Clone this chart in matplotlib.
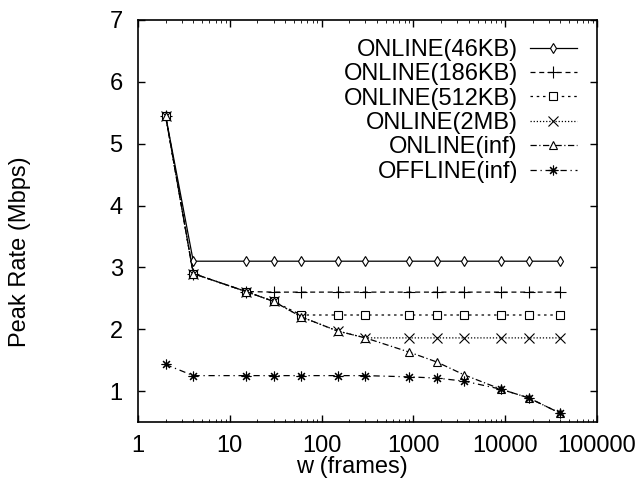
import numpy as np
import matplotlib
matplotlib.use("Agg")
import matplotlib.pyplot as plt
from matplotlib.ticker import FixedLocator, FixedFormatter, LogLocator, NullFormatter

plt.rcParams['font.family'] = ['Liberation Sans', 'DejaVu Sans']

# window sizes (frames)
w = [2, 4, 15, 30, 60, 150, 300, 900, 1800, 3600, 9000, 18000, 40000]

online_46kb = [5.45, 3.1, 3.1, 3.1, 3.1, 3.1, 3.1, 3.1, 3.1, 3.1, 3.1, 3.1, 3.1]
online_186kb = [5.45, 2.9, 2.61, 2.6, 2.6, 2.6, 2.6, 2.6, 2.6, 2.6, 2.6, 2.6, 2.6]
online_512kb = [5.45, 2.9, 2.61, 2.45, 2.23, 2.23, 2.23, 2.23, 2.23, 2.23, 2.23, 2.23, 2.23]
online_2mb = [5.45, 2.9, 2.61, 2.45, 2.2, 1.97, 1.86, 1.86, 1.86, 1.86, 1.86, 1.86, 1.86]
online_inf = [5.45, 2.9, 2.61, 2.45, 2.2, 1.97, 1.86, 1.63, 1.47, 1.26, 1.03, 0.89, 0.64]
offline_inf = [1.43, 1.25, 1.25, 1.25, 1.25, 1.25, 1.25, 1.23, 1.21, 1.16, 1.03, 0.89, 0.64]

labels = ['ONLINE(46KB)', 'ONLINE(186KB)', 'ONLINE(512KB)',
          'ONLINE(2MB)', 'ONLINE(inf)', 'OFFLINE(inf)']
xticks = [1, 10, 100, 1000, 10000, 100000]
xtick_labels = ['1', '10', '100', '1000', '10000', '100000']
yticks = [1, 2, 3, 4, 5, 6, 7]

series = [online_46kb, online_186kb, online_512kb, online_2mb, online_inf, offline_inf]
styles = [
    dict(ls='-', marker='d', ms=5, mfc='white'),
    dict(ls=(0, (4, 3)), marker='+', ms=8),
    dict(ls=(0, (2, 3)), marker='s', ms=6, mfc='white'),
    dict(ls=(0, (1, 1.5)), marker='x', ms=6.5),
    dict(ls=(0, (5, 2, 1, 2)), marker='^', ms=5.5, mfc='white'),
    dict(ls=(0, (5, 3, 1, 3)), marker=(8, 2, 0), ms=7),
]

fig = plt.figure(figsize=(6.37, 4.83), dpi=100)
ax = fig.add_axes([138 / 637, 1 - 422 / 483, 459 / 637, 402 / 483])

for ys, lab, st in zip(series, labels, styles):
    ax.plot(w, ys, color='black', lw=0.9, mew=0.8, label=lab, **st)

ax.set_xscale('log')
ax.set_xlim(1, 100000)
ax.set_ylim(0.5, 7)
ax.xaxis.set_major_locator(FixedLocator(xticks))
ax.xaxis.set_major_formatter(FixedFormatter(xtick_labels))
ax.xaxis.set_minor_locator(LogLocator(base=10, subs=np.arange(2, 10)))
ax.xaxis.set_minor_formatter(NullFormatter())
ax.set_yticks(yticks)
ax.tick_params(which='both', direction='in', top=True, right=True, labelsize=17)
ax.tick_params(which='major', length=5, width=1)
ax.tick_params(which='minor', length=2.5, width=0.6)
ax.tick_params(axis='y', pad=11)
ax.tick_params(axis='x', pad=9)
for s in ax.spines.values():
    s.set_linewidth(1.2)

fig.text(20 / 637, 1 - 252 / 483, 'Peak Rate (Mbps)', rotation=90,
         ha='center', va='center', fontsize=17)
fig.text(352 / 637, 1 - 467 / 483, 'w (frames)', ha='center', va='center',
         fontsize=17)

leg = ax.legend(loc='upper right', bbox_to_anchor=(577 / 637, 1 - 39 / 483),
                bbox_transform=fig.transFigure, frameon=False, markerfirst=False,
                fontsize=17, handlelength=2.0, handletextpad=0.5,
                labelspacing=0.1, borderpad=0, borderaxespad=0)

fig.savefig('out.png', dpi=100)
